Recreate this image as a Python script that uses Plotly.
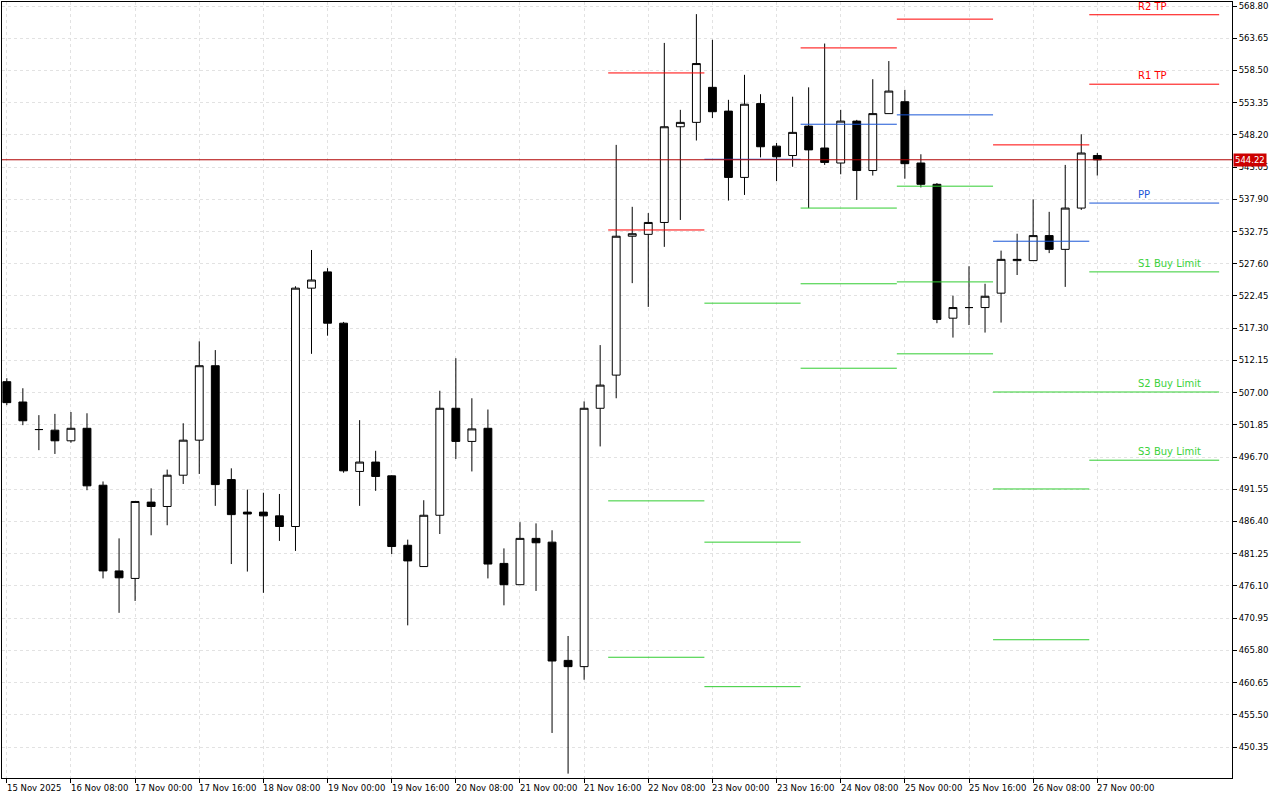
import plotly.graph_objects as go

# ---- candle data (H4)
opens = [508.75, 505.5, 501.1, 501.0, 499.3, 501.3, 492.2, 478.5, 477.3, 489.5,
         488.8, 493.8, 499.4, 511.3, 493.1, 487.9, 487.9, 487.3, 485.6, 523.7,
         526.3, 518.1, 494.4, 495.9, 493.7, 482.6, 479.2, 487.4, 504.5, 499.2,
         501.3, 479.7, 476.3, 483.7, 483.1, 464.2, 463.2, 504.5, 509.8, 532.0,
         532.3, 534.2, 549.5, 550.2, 555.8, 552.0, 541.4, 553.2, 546.4, 544.9,
         549.6, 546.1, 543.7, 550.4, 542.5, 551.6, 553.5, 543.7, 540.3, 518.9,
         520.6, 520.6, 522.9, 528.1, 528.1, 532.1, 529.9, 536.5, 544.9]
highs = [509.3, 507.7, 503.4, 503.6, 503.9, 503.7, 492.8, 483.7, 489.6, 491.7,
         494.7, 502.1, 515.2, 513.8, 494.9, 491.5, 491.0, 490.8, 524.0, 529.8,
         526.9, 518.3, 502.6, 497.7, 493.8, 483.5, 489.8, 507.3, 512.5, 506.1,
         504.3, 482.1, 486.3, 486.1, 485.0, 468.1, 505.6, 514.6, 546.6, 536.7,
         535.7, 562.9, 552.2, 567.5, 563.4, 553.8, 557.8, 554.7, 546.9, 554.3,
         555.8, 562.8, 552.2, 550.6, 557.1, 560.0, 555.4, 545.1, 540.5, 522.5,
         527.2, 524.4, 529.7, 532.4, 537.9, 535.9, 543.4, 548.3, 545.3]
lows = [505.0, 501.8, 497.8, 497.2, 499.0, 491.4, 477.3, 471.8, 473.7, 484.2,
        485.8, 492.4, 494.0, 488.9, 479.6, 478.4, 475.0, 483.3, 481.7, 513.2,
        516.1, 494.2, 488.9, 491.3, 481.2, 469.8, 479.2, 484.4, 496.4, 494.4,
        477.3, 473.0, 476.3, 475.3, 452.6, 446.1, 461.1, 498.4, 506.1, 524.5,
        520.7, 530.3, 534.6, 547.3, 550.9, 537.7, 538.6, 544.6, 540.8, 543.1,
        536.5, 543.4, 541.9, 537.8, 541.7, 551.6, 541.2, 539.8, 518.1, 515.8,
        517.8, 516.6, 518.2, 525.8, 528.1, 529.3, 523.9, 536.2, 541.7]
closes = [505.4, 502.5, 501.1, 499.3, 501.3, 492.1, 478.5, 477.4, 489.6, 488.8,
          493.8, 499.4, 511.3, 492.3, 487.5, 487.6, 487.3, 485.6, 523.7, 525.0,
          518.1, 494.5, 495.9, 493.6, 482.4, 480.1, 487.4, 504.5, 499.2, 501.2,
          479.6, 476.3, 483.7, 483.0, 464.1, 463.2, 504.5, 508.2, 532.0, 532.4,
          534.2, 549.5, 550.2, 559.6, 551.9, 541.4, 553.1, 546.3, 544.7, 548.6,
          545.8, 543.8, 550.4, 542.5, 551.6, 555.2, 543.6, 540.3, 518.7, 520.6,
          520.6, 522.4, 528.3, 528.3, 532.1, 529.9, 536.5, 545.3, 544.22]

time_labels = ["15 Nov 2025", "16 Nov 08:00", "17 Nov 00:00", "17 Nov 16:00", "18 Nov 08:00",
               "19 Nov 00:00", "19 Nov 16:00", "20 Nov 08:00", "21 Nov 00:00", "21 Nov 16:00",
               "22 Nov 08:00", "23 Nov 00:00", "23 Nov 16:00", "24 Nov 08:00", "25 Nov 00:00",
               "25 Nov 16:00", "26 Nov 08:00", "27 Nov 00:00"]
label_pos = list(range(0, 69, 4))

# ---- daily pivot levels: (start candle, end candle, [(price, kind)])
pivot_days = [
    (37.5, 43.5, [(558.1, "R"), (533.0, "R"), (489.7, "S"), (464.7, "S")]),
    (43.5, 49.5, [(544.3, "P"), (521.3, "S"), (483.1, "S"), (460.0, "S")]),
    (49.5, 55.5, [(562.1, "R"), (549.9, "P"), (536.5, "S"), (524.4, "S"), (510.9, "S")]),
    (55.5, 61.5, [(566.7, "R"), (551.4, "P"), (540.0, "S"), (524.7, "S"), (513.2, "S")]),
    (61.5, 67.5, [(546.6, "R"), (531.2, "P"), (507.1, "S"), (491.6, "S"), (467.5, "S")]),
]
proj_names = ["R2 TP", "R1 TP", "PP", "S1 Buy Limit", "S2 Buy Limit", "S3 Buy Limit"]
proj_levels = [567.4, 556.3, 537.3, 526.3, 507.1, 496.2]
proj_kinds = ["R", "R", "P", "S", "S", "S"]

current_price = 544.22
y_ticks = [568.80 - 5.15 * k for k in range(24)]

colors = {"R": "#ff0000", "P": "#1a56d6", "S": "#32cd32"}
text_colors = {"R": "#ff0000", "P": "#1a56d6", "S": "#3cd23c"}

x = list(range(len(opens)))

fig = go.Figure()
fig.add_trace(go.Candlestick(
    x=x, open=opens, high=highs, low=lows, close=closes,
    increasing=dict(fillcolor="white", line=dict(color="black", width=1)),
    decreasing=dict(fillcolor="black", line=dict(color="black", width=1)),
    whiskerwidth=0, showlegend=False, hoverinfo="skip"))

for x0, x1, levels in pivot_days:
    for price, kind in levels:
        fig.add_shape(type="line", x0=x0, x1=x1, y0=price, y1=price,
                      line=dict(color=colors[kind], width=1))

for name, price, kind in zip(proj_names, proj_levels, proj_kinds):
    fig.add_shape(type="line", x0=67.5, x1=75.6, y0=price, y1=price,
                  line=dict(color=colors[kind], width=1))
    fig.add_annotation(x=70.4, y=price, text=name, showarrow=False, xanchor="left",
                       yanchor="bottom", yshift=1,
                       font=dict(color=text_colors[kind], size=10, family="DejaVu Sans"))

# time labels, left aligned on their tick like the terminal does
for pos, lab in zip(label_pos, time_labels):
    fig.add_annotation(x=pos, xshift=-2, y=0, yref="paper", yanchor="top", yshift=-3,
                       xanchor="left", text=lab, showarrow=False,
                       font=dict(size=8.5, family="DejaVu Sans", color="black"))

# current price line + label
fig.add_shape(type="line", xref="paper", x0=0, x1=1, y0=current_price, y1=current_price,
              line=dict(color="#b00000", width=1))
fig.add_annotation(xref="paper", x=1.0, y=current_price, text="%.2f" % current_price,
                   showarrow=False, xanchor="left", xshift=1, bgcolor="#cc0000",
                   borderpad=1, font=dict(color="white", size=8.5, family="DejaVu Sans"))

fig.update_layout(
    width=1280, height=800, autosize=False,
    margin=dict(l=2, r=48, t=2, b=22),
    paper_bgcolor="white", plot_bgcolor="white",
    font=dict(family="DejaVu Sans", size=8.5, color="black"),
    xaxis=dict(range=[-0.3, 76.4], rangeslider=dict(visible=False),
               tickmode="array", tickvals=label_pos, ticktext=[""] * len(label_pos),
               ticks="outside", ticklen=4, tickcolor="black",
               showgrid=True, gridcolor="#e2e2e2", griddash="3px,3px", gridwidth=1,
               showline=True, linecolor="black", mirror=True, zeroline=False,
               fixedrange=True),
    yaxis=dict(range=[445.4, 569.44], side="right", tickmode="array",
               tickvals=y_ticks, ticktext=["%.2f" % v for v in y_ticks],
               ticks="outside", ticklen=4, tickcolor="black",
               showgrid=True, gridcolor="#e2e2e2", griddash="3px,3px", gridwidth=1,
               showline=True, linecolor="black", mirror=True, zeroline=False),
)

# drop the page margin so the chart sits flush in the window
fig.write_html("out.html", config={"displayModeBar": False},
               post_script="document.body.style.margin='0';document.body.style.overflow='hidden';")
